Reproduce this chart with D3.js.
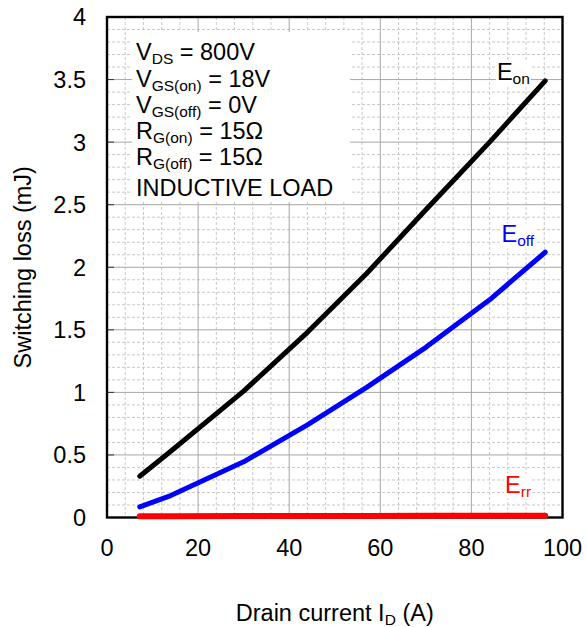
<!DOCTYPE html>
<html><head><meta charset="utf-8">
<script src="https://cdn.jsdelivr.net/npm/d3@7"></script>
<style>
html,body{margin:0;padding:0;background:#fff;}
text{font-family:"Liberation Sans",Arial,sans-serif;}
</style></head>
<body>
<svg id="c" width="587" height="627"></svg>
<script>
// ---- data ----
const current = [7.2, 14, 30, 44, 57, 70, 84, 96.2];
const eOn  = [0.33, 0.53, 1.01, 1.48, 1.95, 2.46, 3.00, 3.49];
const eOff = [0.085, 0.175, 0.445, 0.74, 1.04, 1.36, 1.74, 2.12];
const eRr  = [0.010, 0.010, 0.011, 0.012, 0.012, 0.013, 0.013, 0.014];
const xTicks = [0, 20, 40, 60, 80, 100];
const yTicks = [0, 0.5, 1, 1.5, 2, 2.5, 3, 3.5, 4];
const xTickLabels = ["0", "20", "40", "60", "80", "100"];
const yTickLabels = ["0", "0.5", "1", "1.5", "2", "2.5", "3", "3.5", "4"];
const conditions = [
  [["V",""],["DS","sub"],[" = 800V",""]],
  [["V",""],["GS(on)","sub"],[" = 18V",""]],
  [["V",""],["GS(off)","sub"],[" = 0V",""]],
  [["R",""],["G(on)","sub"],[" = 15\u03A9",""]],
  [["R",""],["G(off)","sub"],[" = 15\u03A9",""]],
  [["INDUCTIVE LOAD",""]]
];

const svg = d3.select("#c");
const L = 107, R = 562.5, T = 17, B = 517.5;
const x = d3.scaleLinear().domain([0, 100]).range([L, R]);
const y = d3.scaleLinear().domain([0, 4]).range([B, T]);
const FS = 23.5, SUB = 15.5;

// minor grid
const g = svg.append("g");
const xMinor = d3.range(4, 100, 4).filter(v => v % 20 !== 0);
const yMinor = d3.range(1, 40).map(v => v / 10).filter(v => Math.round(v * 10) % 5 !== 0);
g.selectAll(".xm").data(xMinor).join("line")
  .attr("x1", d => x(d)).attr("x2", d => x(d)).attr("y1", T).attr("y2", B)
  .attr("stroke", "#c8c8c8").attr("stroke-width", 1).attr("stroke-dasharray", "3,2");
g.selectAll(".ym").data(yMinor).join("line")
  .attr("y1", d => y(d)).attr("y2", d => y(d)).attr("x1", L).attr("x2", R)
  .attr("stroke", "#c8c8c8").attr("stroke-width", 1).attr("stroke-dasharray", "3,2");
// major grid
g.selectAll(".xM").data(xTicks.slice(1, -1)).join("line")
  .attr("x1", d => x(d)).attr("x2", d => x(d)).attr("y1", T).attr("y2", B)
  .attr("stroke", "#a6a6a6").attr("stroke-width", 1);
g.selectAll(".yM").data(yTicks.slice(1, -1)).join("line")
  .attr("y1", d => y(d)).attr("y2", d => y(d)).attr("x1", L).attr("x2", R)
  .attr("stroke", "#a6a6a6").attr("stroke-width", 1);

// condition box
svg.append("rect").attr("x", 132).attr("y", 32).attr("width", 218).attr("height", 170).attr("fill", "#fff");
const baselines = [60, 86.5, 112.5, 139, 165, 196];
conditions.forEach((line, i) => {
  const t = svg.append("text").attr("x", 136).attr("y", baselines[i]).attr("font-size", FS).attr("fill", "#000");
  let shifted = false;
  line.forEach(([s, k]) => {
    const ts = t.append("tspan").text(s);
    if (k === "sub") { ts.attr("font-size", SUB).attr("dy", 4); shifted = true; }
    else if (shifted) { ts.attr("dy", -4); shifted = false; }
  });
});

// y ticks inward
svg.append("g").selectAll("line").data(yTicks.slice(1, -1)).join("line")
  .attr("x1", L).attr("x2", L + 7).attr("y1", d => y(d)).attr("y2", d => y(d))
  .attr("stroke", "#333").attr("stroke-width", 1);

// series
const line = d3.line().x(d => x(d[0])).y(d => y(d[1]));
const series = [
  {v: eOn, c: "#000000", w: 5},
  {v: eOff, c: "#0000ff", w: 5},
];
series.forEach(s => {
  svg.append("path").datum(current.map((c, i) => [c, s.v[i]]))
    .attr("d", line).attr("fill", "none").attr("stroke", s.c).attr("stroke-width", s.w)
    .attr("stroke-linecap", "round").attr("stroke-linejoin", "round");
});

// frame
svg.append("rect").attr("x", L).attr("y", T).attr("width", R - L).attr("height", B - T)
  .attr("fill", "none").attr("stroke", "#000").attr("stroke-width", 2.4);

svg.append("path").datum(current.map((c, i) => [c, eRr[i]]))
  .attr("d", line).attr("fill", "none").attr("stroke", "#ff0000").attr("stroke-width", 6)
  .attr("stroke-linecap", "round").attr("stroke-linejoin", "round");

// series labels
const labels = [
  {m: "E", s: "on", c: "#000", px: 85.6, py: 3.5},
  {m: "E", s: "off", c: "#0000ff", px: 86.6, py: 2.198},
  {m: "E", s: "rr", c: "#ff0000", px: 87.4, py: 0.198},
];
labels.forEach(l => {
  const grp = svg.append("g");
  const t = grp.append("text").attr("x", x(l.px)).attr("y", y(l.py)).attr("font-size", FS).attr("fill", l.c);
  t.append("tspan").text(l.m);
  t.append("tspan").text(l.s).attr("font-size", SUB).attr("dy", 4);
  const bb = t.node().getBBox();
  grp.insert("rect", "text").attr("x", bb.x - 1).attr("y", bb.y + 2).attr("width", bb.width + 2).attr("height", bb.height - 3).attr("fill", "#fff");
});

// tick labels
svg.append("g").selectAll("text").data(yTicks).join("text")
  .attr("x", 86).attr("y", d => y(d)).attr("dy", "0.36em").attr("text-anchor", "end")
  .attr("font-size", FS).text((d, i) => yTickLabels[i]);
svg.append("g").selectAll("text").data(xTicks).join("text")
  .attr("x", d => x(d)).attr("y", 556).attr("text-anchor", "middle")
  .attr("font-size", FS).text((d, i) => xTickLabels[i]);

// axis titles
const xt = svg.append("text").attr("x", (L + R) / 2).attr("y", 621).attr("text-anchor", "middle").attr("font-size", FS);
xt.append("tspan").text("Drain current I");
xt.append("tspan").text("D").attr("font-size", SUB).attr("dy", 4);
xt.append("tspan").text(" (A)").attr("dy", -4);
svg.append("text").attr("transform", `translate(31,${(T + B) / 2}) rotate(-90)`)
  .attr("text-anchor", "middle").attr("font-size", FS).text("Switching loss (mJ)");
</script>
</body></html>
